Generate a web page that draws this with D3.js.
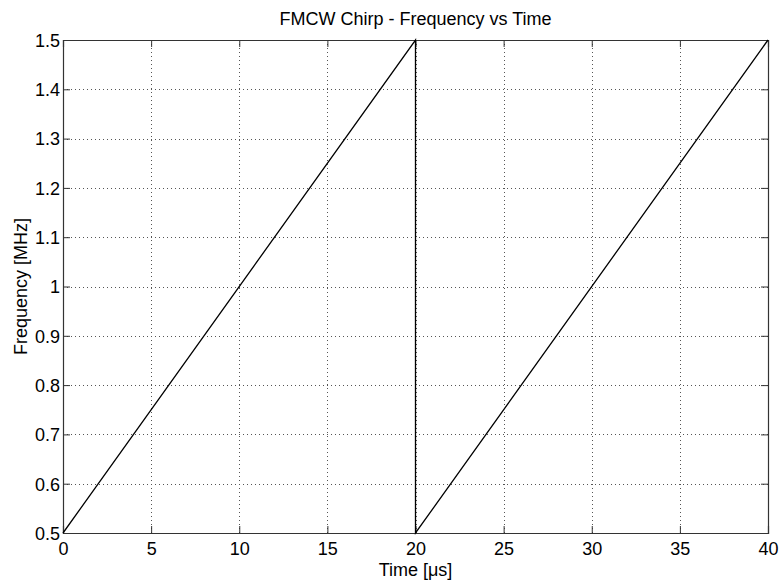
<!DOCTYPE html>
<html><head><meta charset="utf-8">
<script src="https://cdn.jsdelivr.net/npm/d3@7"></script>
<style>body{margin:0;background:#fff}svg{display:block}text{font-family:"Liberation Sans",Arial,sans-serif;fill:#000}</style>
</head><body><svg id="c" width="780" height="583"></svg>
<script>
const timeUs = [0, 20, 20, 40];
const freqMHz = [0.5, 1.5, 0.5, 1.5];
const xTicks = [0, 5, 10, 15, 20, 25, 30, 35, 40];
const yTicks = [0.5, 0.6, 0.7, 0.8, 0.9, 1, 1.1, 1.2, 1.3, 1.4, 1.5];
const titleText = "FMCW Chirp - Frequency vs Time";
const xLabel = "Time [\u03bcs]";
const yLabel = "Frequency [MHz]";

const L = 63, R = 768, T = 40, B = 533;
const FS = "18px";
const svg = d3.select("#c");
const x = d3.scaleLinear().domain([0, 40]).range([L, R]);
const y = d3.scaleLinear().domain([0.5, 1.5]).range([B, T]);

// grid
const g = svg.append("g");
g.selectAll(".gx").data(xTicks.slice(1, -1)).enter().append("line")
  .attr("x1", d => Math.round(x(d)) + 0.5).attr("x2", d => Math.round(x(d)) + 0.5)
  .attr("y1", T).attr("y2", B).attr("stroke", "#555").attr("stroke-width", 1).attr("stroke-dasharray", "1,3");
g.selectAll(".gy").data(yTicks.slice(1, -1)).enter().append("line")
  .attr("y1", d => Math.round(y(d)) + 0.5).attr("y2", d => Math.round(y(d)) + 0.5)
  .attr("x1", L).attr("x2", R).attr("stroke", "#555").attr("stroke-width", 1).attr("stroke-dasharray", "1,3");

// axes
const tl = 7;
const fmt = d => d3.format("")(d);
const axB = svg.append("g").attr("transform", `translate(0,${B})`)
  .call(d3.axisBottom(x).tickValues(xTicks).tickSize(-tl).tickPadding(9).tickFormat(fmt));
const axT = svg.append("g").attr("transform", `translate(0,${T})`)
  .call(d3.axisTop(x).tickValues(xTicks).tickSize(-tl).tickFormat(""));
const axL = svg.append("g").attr("transform", `translate(${L},0)`)
  .call(d3.axisLeft(y).tickValues(yTicks).tickSize(-tl).tickPadding(3).tickFormat(fmt));
const axR = svg.append("g").attr("transform", `translate(${R},0)`)
  .call(d3.axisRight(y).tickValues(yTicks).tickSize(-tl).tickFormat(""));
[axB, axT, axL, axR].forEach(a => {
  a.select(".domain").attr("stroke", "#333").attr("stroke-width", 1.2);
  a.selectAll(".tick line").attr("stroke", "#333");
  a.selectAll("text").style("font-size", FS).attr("fill", "#000");
});
axL.selectAll("text").attr("dy", "0.35em");

// data line
const line = d3.line().x((d, i) => x(timeUs[i])).y((d, i) => y(freqMHz[i]));
svg.append("path").datum(freqMHz).attr("d", line)
  .attr("fill", "none").attr("stroke", "#000").attr("stroke-width", 1.3);

// labels
svg.append("text").attr("x", (L + R) / 2).attr("y", 25).attr("text-anchor", "middle")
  .style("font-size", FS).text(titleText);
svg.append("text").attr("x", (L + R) / 2).attr("y", 576).attr("text-anchor", "middle")
  .style("font-size", FS).text(xLabel);
svg.append("text").attr("transform", `translate(27,${(T + B) / 2}) rotate(-90)`).attr("text-anchor", "middle")
  .style("font-size", FS).text(yLabel);
</script></body></html>
